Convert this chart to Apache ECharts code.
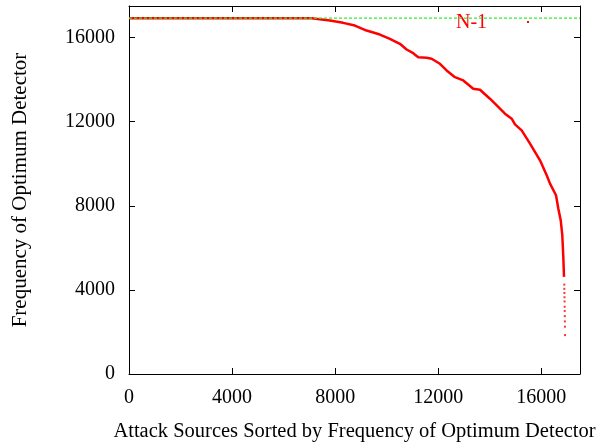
<!DOCTYPE html>
<html>
<head>
<meta charset="utf-8">
<script src="https://cdn.jsdelivr.net/npm/echarts@6/dist/echarts.min.js"></script>
<style>
    html, body { margin: 0; padding: 0; background: #fff; }
    #chart { width: 597px; height: 442px; }
</style>
</head>
<body>
<div id="chart"></div>
<script>
// Sorted frequency curve (source rank, frequency)
const rankValues = [0, 7083, 7793, 8310, 8764, 9218, 9735, 10123, 10512, 10772, 11028, 11222, 11548,
    11742, 12065, 12325, 12647, 12970, 13358, 13618, 14006, 14395, 14589, 14849, 14977, 15237, 15560,
    15948, 16208, 16336, 16569, 16658, 16751, 16813, 16852, 16880]
const freqValues = [16920, 16920, 16808, 16699, 16571, 16333, 16143, 15939, 15702, 15431, 15255, 15065, 15037,
    14990, 14752, 14434, 14116, 13959, 13565, 13518, 13090, 12615, 12378, 12141, 11870, 11585, 10954,
    10162, 9449, 9054, 8499, 7867, 7312, 6600, 5570, 4620]
// sparse tail of the curve (isolated dots)
const tailRanks = [16890, 16892, 16895, 16898, 16901, 16904, 16907, 16910, 16913, 16916, 16919]
const tailFreqs = [4250, 4050, 3850, 3650, 3450, 3200, 3000, 2750, 2500, 2250, 1850]
const nMinusOne = 16919
const tickValues = [0, 4000, 8000, 12000, 16000]

const chart = echarts.init(document.getElementById('chart'))
const font = '"Liberation Serif", "Times New Roman", serif'

const curve = rankValues.map((x, i) => [x, freqValues[i]])
const tail = tailRanks.map((x, i) => [x, tailFreqs[i]])

const tickStyle = { show: true, inside: true, length: 6, lineStyle: { color: '#000', width: 1 } }
const lineStyle = { show: true, onZero: false, lineStyle: { color: '#000', width: 1 } }
const tickLabel = v => tickValues.includes(v) ? String(v) : ''

const option = {
    animation: false,
    grid: { left: 129, right: 17, top: 6, bottom: 68, outerBoundsMode: 'none', containLabel: false },
    xAxis: [
        {
            type: 'value', min: 0, max: 17500, interval: 4000,
            name: 'Attack Sources Sorted by Frequency of Optimum Detector',
            nameLocation: 'middle', nameGap: 47,
            nameTextStyle: { fontFamily: font, fontSize: 20.5, color: '#000' },
            axisLine: lineStyle,
            axisTick: tickStyle,
            axisLabel: { fontFamily: font, fontSize: 20, color: '#000', margin: 14, formatter: tickLabel },
            splitLine: { show: false }
        },
        {
            type: 'value', position: 'top', min: 0, max: 17500, interval: 4000,
            axisLine: lineStyle, axisTick: tickStyle,
            axisLabel: { show: false }, splitLine: { show: false }
        }
    ],
    yAxis: [
        {
            type: 'value', min: 0, max: 17500, interval: 4000,
            name: 'Frequency of Optimum Detector',
            nameLocation: 'middle', nameGap: 98,
            nameTextStyle: { fontFamily: font, fontSize: 21, color: '#000' },
            axisLine: lineStyle,
            axisTick: tickStyle,
            axisLabel: { fontFamily: font, fontSize: 20, color: '#000', margin: 14, formatter: tickLabel },
            splitLine: { show: false }
        },
        {
            type: 'value', position: 'right', min: 0, max: 17500, interval: 4000,
            axisLine: lineStyle, axisTick: tickStyle,
            axisLabel: { show: false }, splitLine: { show: false }
        }
    ],
    series: [
        {
            name: 'frequency',
            type: 'line',
            data: curve,
            symbol: 'none',
            lineStyle: { color: '#ff0000', width: 2.5 },
            z: 2
        },
        {
            name: 'tail',
            type: 'scatter',
            data: tail,
            symbol: 'rect',
            symbolSize: 2,
            itemStyle: { color: '#ff0000' }
        },
        {
            name: 'N-1 line',
            type: 'line',
            xAxisIndex: 1,
            yAxisIndex: 1,
            data: [[0, nMinusOne], [17500, nMinusOne]],
            symbol: 'none',
            lineStyle: { color: '#33ee33', width: 1.2, type: [3, 2] },
            z: 3
        }
    ],
    graphic: [
        {
            type: 'text', left: 456, top: 13,
            style: { text: 'N-1', fontFamily: font, fontSize: 20, fill: '#ff0000' }
        },
        {
            type: 'rect', left: 527, top: 21,
            shape: { width: 2, height: 2 },
            style: { fill: '#ff0000' }
        }
    ]
}

chart.setOption(option)
</script>
</body>
</html>
